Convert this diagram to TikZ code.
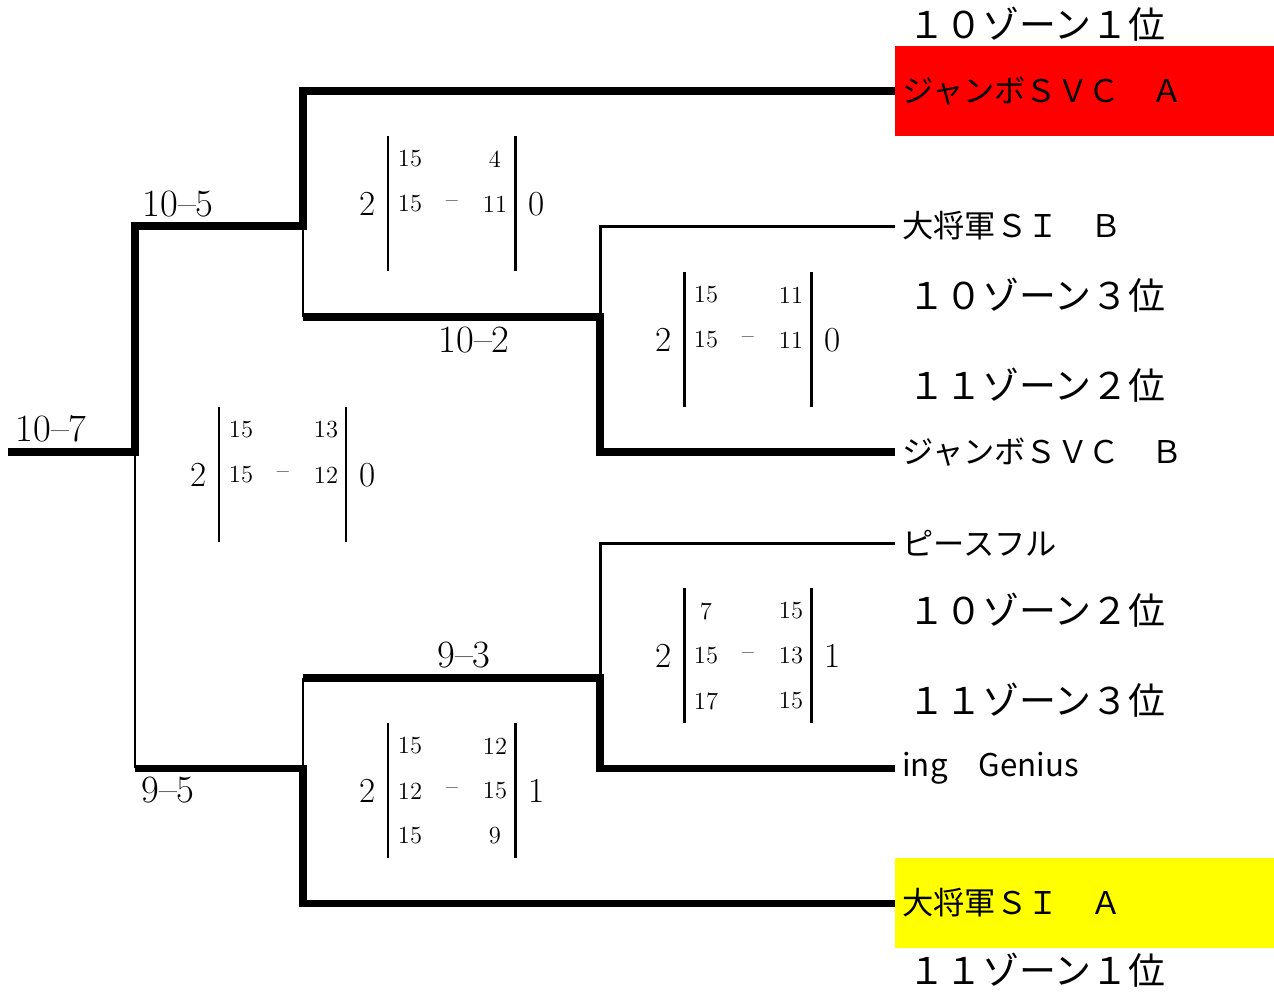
\documentclass[tikz,border=0pt]{standalone}
\usepackage{fontspec}
\newfontfamily\jpfont{Noto Sans CJK JP}
\definecolor{firstred}{RGB}{255,0,0}
\definecolor{firstyellow}{RGB}{255,255,0}
\tikzset{win/.style = {line width = 4pt},
  lose/.style = {line width = 1.7pt},
  bar/.style = {line width = 1.7pt},
  team/.style = {anchor = west, inner xsep = 4pt, font = \jpfont\fontsize{17.8}{20}\selectfont},
  zone/.style = {font = \jpfont\fontsize{21}{24}\selectfont},
  res/.style = {font = \fontsize{22}{24}\selectfont},
  tot/.style = {font = \fontsize{20}{22}\selectfont},
  sets/.style = {font = \fontsize{14}{16}\selectfont}}
\newcommand\scorebox[6]{%
  \draw [bar] (#2, #3) -- (#2, #3+135);
  \draw [bar] (#2+127, #3) -- (#2+127, #3+135);
  \node [tot] (#1-l) at (#2-20, #3+68) {#4};
  \node [tot] (#1-r) at (#2+149, #3+68) {#5};
  \node [sets] (#1-d) at (#2+64, #3+68) {--};
  \foreach \a/\b [count=\i] in {#6}
    \node [sets] (#1-a\i) at (#2+22, #3+45*\i-22) {\a}
      node [sets] (#1-b\i) at (#2+107, #3+45*\i-22) {\b};
}

\begin{document}
\begin{tikzpicture}[x=0.02cm, y=-0.02cm]
    \useasboundingbox (0, 0) rectangle (1274, 991);

    \fill [firstred] (895, 46) rectangle (1274, 136);
    \fill [firstyellow] (895, 858) rectangle (1274, 948);

    \node [team] (svcA) at (895, 91) {ジャンボＳＶＣ　Ａ};
    \node [team] (siB) at (895, 226) {大将軍ＳＩ　Ｂ};
    \node [team] (svcB) at (895, 452) {ジャンボＳＶＣ　Ｂ};
    \node [team] (peace) at (895, 543) {ピースフル};
    \node [team] (ing) at (895, 768) {ing　Genius};
    \node [team] (siA) at (895, 903) {大将軍ＳＩ　Ａ};

    \foreach \y/\t [count=\i] in {24/１０ゾーン１位, 295/１０ゾーン３位, 385/１１ゾーン２位,
        610/１０ゾーン２位, 700/１１ゾーン３位, 970/１１ゾーン１位}
      \node [zone] (zone\i) at (1037, \y) {\t};

    \coordinate (root) at (8, 452);
    \coordinate (fin) at (135, 452);
    \coordinate (semiA) at (303, 226);
    \coordinate (semiB) at (303, 768);
    \coordinate (qfA) at (600, 317);
    \coordinate (qfB) at (600, 678);

    % upper half
    \draw [win] (root) -- (fin) |- (semiA) |- (svcA.west);
    \draw [lose] (semiA) -- (semiA |- qfA);
    \draw [win] (semiA |- qfA) -- (qfA) |- (svcB.west);
    \draw [lose] (qfA) |- (siB.west);

    % lower half
    \draw [lose] (fin) -- (fin |- semiB);
    \draw [win] (fin |- semiB) -- (semiB) |- (siA.west);
    \draw [lose] (semiB) -- (semiB |- qfB);
    \draw [win] (semiB |- qfB) -- (qfB) |- (ing.west);
    \draw [lose] (qfB) |- (peace.west);

    \node [res] (r107) at (51, 429) {10--7};
    \node [res] (r105) at (178, 204) {10--5};
    \node [res] (r102) at (474, 340) {10--2};
    \node [res] (r93) at (464, 655) {9--3};
    \node [res] (r95) at (168, 790) {9--5};

    \scorebox{sA}{388}{136}{2}{0}{15/4, 15/11}
    \scorebox{qA}{684}{272}{2}{0}{15/11, 15/11}
    \scorebox{fn}{219}{407}{2}{0}{15/13, 15/12}
    \scorebox{qB}{684}{588}{2}{1}{7/15, 15/13, 17/15}
    \scorebox{sB}{388}{723}{2}{1}{15/12, 12/15, 15/9}
  \end{tikzpicture}
\end{document}
